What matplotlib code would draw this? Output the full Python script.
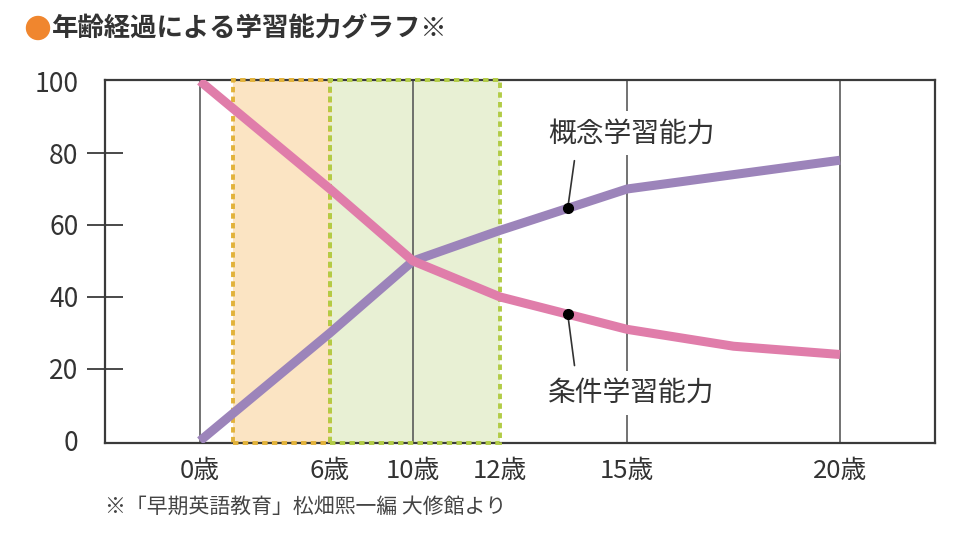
import numpy as np
import matplotlib
matplotlib.use("Agg")
import matplotlib.pyplot as plt
from matplotlib.patches import Rectangle, Ellipse

plt.rcParams['font.family'] = ['Noto Sans CJK JP', 'DejaVu Sans']

# ---------------- data ----------------
title = "年齢経過による学習能力グラフ※"
source_note = "※「早期英語教育」松畑熙一編 大修館より"
age_ticks = [0, 6, 10, 12, 15, 20]
age_labels = ["0歳", "6歳", "10歳", "12歳", "15歳", "20歳"]
vline_ages = [0, 10, 15, 20]
y_ticks = [0, 20, 40, 60, 80, 100]

concept_name = "概念学習能力"
concept_age = [0, 6, 10, 12, 15, 20]
concept_val = [0, 30, 50, 58.5, 70, 78]

cond_name = "条件学習能力"
cond_age = [0, 6, 10, 12, 15, 17.5, 20]
cond_val = [100, 70, 50, 40, 31, 26.3, 24]

orange_span = (1.5, 6)
green_span = (6, 12)
label_age = 13.6

# ---------------- styles ----------------
PINK = "#E07DAA"
PURPLE = "#9C84BA"
ORANGE_FILL = "#FBE4C3"
ORANGE_EDGE = "#E2B23A"
GREEN_FILL = "#E8F0D4"
GREEN_EDGE = "#B2CC46"
AXIS_C = "#3a3a3a"
TEXT_C = "#333333"

# piecewise-linear horizontal scale (layout: pixel offsets of age knots)
AK = np.array([0, 6, 10, 12, 15, 20], float)
PK = np.array([95, 225, 308, 395, 522, 735], float)
AX_W = 830.0


def _pw(x, xs, ys):
    x = np.asarray(x, float)
    flat = np.atleast_1d(x).astype(float)
    out = np.interp(flat, xs, ys)
    lo = flat < xs[0]
    hi = flat > xs[-1]
    s0 = (ys[1] - ys[0]) / (xs[1] - xs[0])
    s1 = (ys[-1] - ys[-2]) / (xs[-1] - xs[-2])
    out[lo] = ys[0] + (flat[lo] - xs[0]) * s0
    out[hi] = ys[-1] + (flat[hi] - xs[-1]) * s1
    return out.reshape(x.shape)


def fwd(a):
    return _pw(a, AK, PK)


def inv(p):
    return _pw(p, PK, AK)


fig = plt.figure(figsize=(9.6, 5.48), dpi=100)
ax = fig.add_axes([105 / 960, 1 - 443 / 548, 830 / 960, 363 / 548])
ax.set_xscale('function', functions=(fwd, inv))
ax.set_xlim(float(inv(0.0)), float(inv(AX_W)))
ax.set_ylim(-0.6, 100.3)

# shaded age spans
ax.add_patch(Rectangle((orange_span[0], -0.6), orange_span[1] - orange_span[0], 100.9,
                       facecolor=ORANGE_FILL, edgecolor='none', zorder=0.5))
ax.add_patch(Rectangle((green_span[0], -0.6), green_span[1] - green_span[0], 100.9,
                       facecolor=GREEN_FILL, edgecolor='none', zorder=0.5))
ax.add_patch(Rectangle((orange_span[0], -0.6), orange_span[1] - orange_span[0], 100.9,
                       facecolor='none', edgecolor=ORANGE_EDGE, lw=2.8,
                       linestyle=(0, (1.4, 1.1)), zorder=3, clip_on=False))
ax.add_patch(Rectangle((green_span[0], -0.6), green_span[1] - green_span[0], 100.9,
                       facecolor='none', edgecolor=GREEN_EDGE, lw=2.8,
                       linestyle=(0, (1.4, 1.1)), zorder=3, clip_on=False))

for a in vline_ages:
    ax.axvline(a, color="#5a5a5a", lw=1.2, zorder=1)

ax.plot(concept_age, concept_val, color=PURPLE, lw=6.5, solid_joinstyle='round',
        solid_capstyle='butt', zorder=4)
ax.plot(cond_age, cond_val, color=PINK, lw=6.5, solid_joinstyle='round',
        solid_capstyle='butt', zorder=4)

# labels with leader lines
cy = float(np.interp(label_age, concept_age, concept_val))
ky = float(np.interp(label_age, cond_age, cond_val))
ax.plot([label_age, label_age], [cy, ky], linestyle='none', marker='o',
        color='black', markersize=7, zorder=6)
ax.annotate(concept_name, xy=(label_age, cy), xytext=(13.13, 85.5),
            ha='left', va='center', fontsize=20, color=TEXT_C, zorder=5,
            bbox=dict(boxstyle='square,pad=0.25', fc='white', ec='none'),
            arrowprops=dict(arrowstyle='-', color='#333333', lw=1.2,
                            relpos=(0.17, 0.0), shrinkA=4, shrinkB=0))
ax.annotate(cond_name, xy=(label_age, ky), xytext=(13.13, 13.3),
            ha='left', va='center', fontsize=20, color=TEXT_C, zorder=5,
            bbox=dict(boxstyle='square,pad=0.25', fc='white', ec='none'),
            arrowprops=dict(arrowstyle='-', color='#333333', lw=1.2,
                            relpos=(0.17, 1.0), shrinkA=4, shrinkB=0))

# axes styling
for sp in ax.spines.values():
    sp.set_color(AXIS_C)
    sp.set_linewidth(1.6)
    sp.set_zorder(2.5)

ax.set_xticks(age_ticks)
ax.set_xticklabels(age_labels)
ax.xaxis.set_minor_locator(matplotlib.ticker.NullLocator())
ax.tick_params(axis='x', length=0, pad=11, labelsize=18.5, labelcolor=TEXT_C)
ax.set_yticks(y_ticks)
ax.set_yticklabels([str(v) for v in y_ticks])
ax.tick_params(axis='y', direction='inout', length=26.5, width=1.3, color=AXIS_C,
               pad=6, labelsize=19, labelcolor=TEXT_C)
yt = ax.yaxis.get_major_ticks()
yt[0].tick1line.set_visible(False)
yt[-1].tick1line.set_visible(False)

# title and source
fig.add_artist(Ellipse((38 / 960, 1 - 28 / 548), 23 / 960, 23 / 548,
                       transform=fig.transFigure, color="#F0862E"))
fig.text(52 / 960, 1 - 29 / 548, title, fontsize=19, fontweight='bold',
         color=TEXT_C, ha='left', va='center')
fig.text(105 / 960, 1 - 507 / 548, source_note, fontsize=15, color="#444444",
         ha='left', va='center')

fig.savefig("out.png", dpi=100, facecolor='white')
